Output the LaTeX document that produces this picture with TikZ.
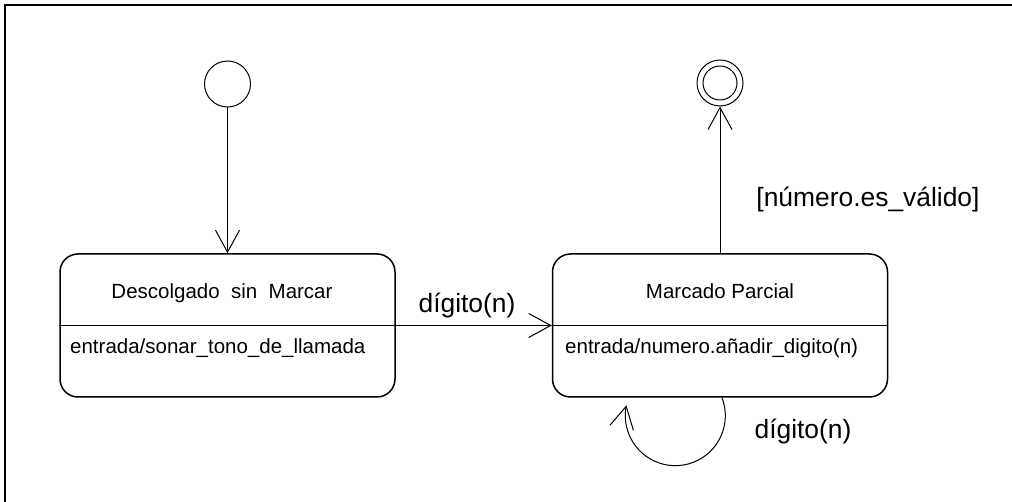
\documentclass[tikz,border=0pt]{standalone}
\usepackage{fontspec}
\setmainfont{Liberation Sans}
\usetikzlibrary{arrows.meta,calc}
\begin{document}
\begin{tikzpicture}[x=1pt,y=-1pt,
  statebox/.style={draw,line width=1.5pt,rounded corners=18pt,minimum width=335pt,minimum height=143pt,inner sep=0pt},
  boxtext/.style={font=\fontsize{20.5}{24}\selectfont,inner sep=0pt},
  lbl/.style={font=\fontsize{26.4}{30}\selectfont,inner sep=0pt},
  pseudo/.style={circle,draw,line width=1pt,inner sep=0pt},
  arr/.style={line width=1pt,-{Straight Barb[length=22pt,width=24pt,line width=1pt]}}]
\useasboundingbox (0,0) rectangle (1012,502);
\draw[line width=2pt] (5,502) -- (5,5) -- (1012,5);
% states
\node[statebox] (b1) at (227.5,325.5) {};
\node[statebox] (b2) at (720,325.5) {};
\draw[line width=1.5pt] (b1.west) -- (b1.east);
\draw[line width=1.5pt] (b2.west) -- (b2.east);
\node[boxtext] (t1) at (222,293) {Descolgado\ \ sin\ \ Marcar};
\node[boxtext,anchor=west] (e1) at (70,348) {entrada/sonar\_tono\_de\_llamada};
\node[boxtext] (t2) at (720,291) {Marcado Parcial};
\node[boxtext,anchor=west] (e2) at (565,348) {entrada/numero.añadir\_digito(n)};
% pseudo states
\node[pseudo,minimum size=46pt] (init) at (227.5,84) {};
\node[pseudo,minimum size=46pt] (fin) at (720,83) {};
\node[pseudo,minimum size=34pt] (fininner) at (fin) {};
% transitions
\draw[arr] (init.south) -- (b1.north);
\draw[arr] (b2.north) -- (fin.south);
\draw[arr] (b1.east) -- (b2.west);
\coordinate (loopstart) at ($(b2.south)+(2,0)$);
\draw[arr] (loopstart) arc[start angle=-21,end angle=192,radius=50];
% labels
\node[lbl] (l1) at (467,306) {dígito(n)};
\node[lbl] (l2) at (868,200) {[número.es\_válido]};
\node[lbl] (l3) at (803,432) {dígito(n)};
\end{tikzpicture}
\end{document}
